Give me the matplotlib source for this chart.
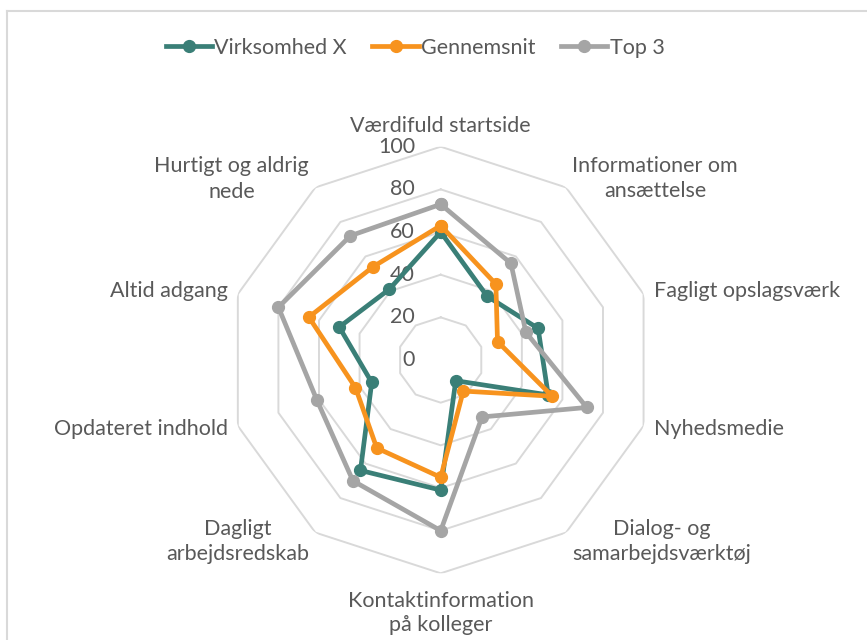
import numpy as np
import matplotlib
matplotlib.use("Agg")
import matplotlib.pyplot as plt
from matplotlib.lines import Line2D

plt.rcParams['font.family'] = ['Lato', 'DejaVu Sans']

categories = [
    "Værdifuld startside",
    "Informationer om\nansættelse",
    "Fagligt opslagsværk",
    "Nyhedsmedie",
    "Dialog- og\nsamarbejdsværktøj",
    "Kontaktinformation\npå kolleger",
    "Dagligt\narbejdsredskab",
    "Opdateret indhold",
    "Altid adgang",
    "Hurtigt og aldrig\nnede",
]
virksomhed_x = [60, 37, 48, 53, 12, 61, 64, 34, 50, 41]
gennemsnit = [63, 44, 28, 55, 18, 55, 51, 42, 65, 54]
top_3 = [73, 56, 42, 72, 33, 80, 70, 61, 80, 72]
series_names = ["Virksomhed X", "Gennemsnit", "Top 3"]
ring_values = [20, 40, 60, 80, 100]
tick_values = [0, 20, 40, 60, 80, 100]

colors = ["#3A7F77", "#F7931E", "#A5A5A5"]
grid_color = "#D9D9D9"
text_color = "#595959"
fs = 15.5

W, H = 867, 640
fig = plt.figure(figsize=(W / 100, H / 100), dpi=100)
fig.patch.set_facecolor("white")

cx, cy, rad = 440.7, 360.0, 213.3
ax = fig.add_axes([(cx - rad) / W, (H - cy - rad) / H, 2 * rad / W, 2 * rad / H],
                  projection="polar")
ax.set_theta_zero_location("N")
ax.set_theta_direction(-1)
ax.set_ylim(0, 100)
ax.grid(False)
ax.spines["polar"].set_visible(False)
ax.set_xticks([])
ax.set_yticks([])
ax.patch.set_alpha(0)

n = len(categories)
theta = np.arange(n) * 2 * np.pi / n
theta_closed = np.append(theta, theta[0])

# decagon grid
for v in ring_values:
    ax.plot(theta_closed, [v] * (n + 1), color=grid_color, lw=1.4, zorder=1)

# radial value labels
for v in tick_values:
    ax.annotate(str(v), xy=(0, v), xytext=(-18.5, 0), textcoords="offset points",
                ha="right", va="center", fontsize=fs, color=text_color, zorder=2)

# series
for vals, name, c in zip([virksomhed_x, gennemsnit, top_3], series_names, colors):
    ax.plot(theta_closed, vals + vals[:1], color=c, lw=3.4, marker="o",
            markersize=8.5, label=name, zorder=3, clip_on=False)

# category labels: (ha, va, offset in points, line spacing)
label_r = 105
aligns = [
    ("center", "bottom", (0, 0), 1.25),
    ("left", "center", (0, 0), 1.3),
    ("left", "center", (0, 0), 1.25),
    ("left", "center", (0, 0), 1.25),
    ("left", "center", (0, 0), 1.3),
    ("center", "top", (0, -5), 1.25),
    ("right", "center", (0, 0), 1.3),
    ("right", "center", (0, 0), 1.25),
    ("right", "center", (0, 0), 1.25),
    ("right", "center", (0, 0), 1.4),
]
for t, lab, (ha, va, off, ls) in zip(theta, categories, aligns):
    ax.annotate(lab, xy=(t, label_r), xytext=off, textcoords="offset points",
                ha=ha, va=va, multialignment="center", fontsize=fs,
                color=text_color, annotation_clip=False, linespacing=ls)

fig.legend(loc="center", bbox_to_anchor=(415 / W, 1 - 48 / H), ncol=3,
           frameon=False, fontsize=fs, labelcolor=text_color,
           handlelength=2.15, handletextpad=0.1, columnspacing=1.2)

# chart area border (left and top edges visible)
fig.add_artist(Line2D([6.5 / W, 6.5 / W], [0, 1 - 10.5 / H], transform=fig.transFigure,
                      color=grid_color, lw=1.5))
fig.add_artist(Line2D([6.5 / W, 1], [1 - 10.5 / H, 1 - 10.5 / H], transform=fig.transFigure,
                      color=grid_color, lw=1.5))

fig.savefig("out.png", dpi=100, facecolor="white")
